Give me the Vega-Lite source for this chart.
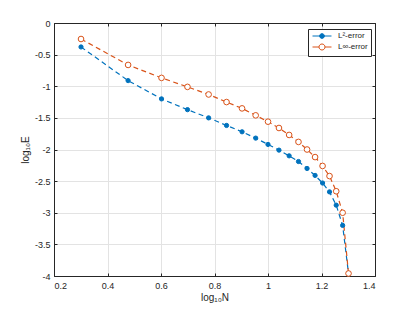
{
  "$schema": "https://vega.github.io/schema/vega-lite/v6.json",
  "autosize": {"type": "none"},
  "padding": {"left": 54, "top": 23, "right": 39, "bottom": 35},
  "width": 321,
  "height": 253,
  "background": "white",
  "config": {
    "view": {"stroke": "#262626", "strokeWidth": 1},
    "font": "Liberation Sans",
    "axis": {
      "labelFont": "Liberation Sans",
      "titleFont": "Liberation Sans",
      "labelFontSize": 9,
      "titleFontSize": 10,
      "titleFontWeight": "normal",
      "labelColor": "#262626",
      "titleColor": "#262626",
      "domainColor": "#262626",
      "tickColor": "#262626",
      "gridColor": "#e3e3e3",
      "gridOpacity": 1,
      "tickSize": -3
    }
  },
  "data": {
    "values": [
      {"x": 0.301, "e": -0.379, "s": "L²-error"},
      {"x": 0.477, "e": -0.911, "s": "L²-error"},
      {"x": 0.602, "e": -1.20, "s": "L²-error"},
      {"x": 0.699, "e": -1.37, "s": "L²-error"},
      {"x": 0.778, "e": -1.50, "s": "L²-error"},
      {"x": 0.845, "e": -1.62, "s": "L²-error"},
      {"x": 0.903, "e": -1.72, "s": "L²-error"},
      {"x": 0.954, "e": -1.82, "s": "L²-error"},
      {"x": 1.000, "e": -1.92, "s": "L²-error"},
      {"x": 1.041, "e": -2.01, "s": "L²-error"},
      {"x": 1.079, "e": -2.10, "s": "L²-error"},
      {"x": 1.114, "e": -2.19, "s": "L²-error"},
      {"x": 1.146, "e": -2.30, "s": "L²-error"},
      {"x": 1.176, "e": -2.41, "s": "L²-error"},
      {"x": 1.204, "e": -2.53, "s": "L²-error"},
      {"x": 1.230, "e": -2.67, "s": "L²-error"},
      {"x": 1.255, "e": -2.88, "s": "L²-error"},
      {"x": 1.279, "e": -3.20, "s": "L²-error"},
      {"x": 1.301, "e": -3.96, "s": "L²-error"},
      {"x": 0.301, "e": -0.253, "s": "L∞-error"},
      {"x": 0.477, "e": -0.663, "s": "L∞-error"},
      {"x": 0.602, "e": -0.868, "s": "L∞-error"},
      {"x": 0.699, "e": -1.01, "s": "L∞-error"},
      {"x": 0.778, "e": -1.13, "s": "L∞-error"},
      {"x": 0.845, "e": -1.25, "s": "L∞-error"},
      {"x": 0.903, "e": -1.35, "s": "L∞-error"},
      {"x": 0.954, "e": -1.46, "s": "L∞-error"},
      {"x": 1.000, "e": -1.56, "s": "L∞-error"},
      {"x": 1.041, "e": -1.66, "s": "L∞-error"},
      {"x": 1.079, "e": -1.77, "s": "L∞-error"},
      {"x": 1.114, "e": -1.88, "s": "L∞-error"},
      {"x": 1.146, "e": -2.00, "s": "L∞-error"},
      {"x": 1.176, "e": -2.12, "s": "L∞-error"},
      {"x": 1.204, "e": -2.26, "s": "L∞-error"},
      {"x": 1.230, "e": -2.42, "s": "L∞-error"},
      {"x": 1.255, "e": -2.66, "s": "L∞-error"},
      {"x": 1.279, "e": -3.00, "s": "L∞-error"},
      {"x": 1.301, "e": -3.96, "s": "L∞-error"}
    ]
  },
  "resolve": {"axis": {"x": "independent", "y": "independent"}},
  "layer": [
    {
      "mark": {"type": "line", "strokeDash": [5, 3.5], "strokeWidth": 1.2},
      "encoding": {
        "x": {
          "field": "x", "type": "quantitative",
          "scale": {"domain": [0.2, 1.4], "nice": false, "zero": false},
          "axis": {
            "orient": "bottom",
            "values": [0.2, 0.4, 0.6, 0.8, 1, 1.2, 1.4],
            "labelExpr": "'' + datum.value",
            "title": "log₁₀N",
            "labelPadding": 8,
            "titlePadding": 2
          }
        },
        "y": {
          "field": "e", "type": "quantitative",
          "scale": {"domain": [-4, 0], "nice": false, "zero": false},
          "axis": {
            "orient": "left",
            "values": [0, -0.5, -1, -1.5, -2, -2.5, -3, -3.5, -4],
            "labelExpr": "'' + datum.value",
            "title": "log₁₀E",
            "labelPadding": 7,
            "titlePadding": 4
          }
        },
        "color": {
          "field": "s", "type": "nominal",
          "scale": {"domain": ["L²-error", "L∞-error"], "range": ["#0072BD", "#D95319"]},
          "legend": {
            "orient": "none",
            "legendX": 254,
            "legendY": 6,
            "title": null,
            "strokeColor": "#262626",
            "fillColor": "white",
            "padding": 3,
            "labelFont": "Liberation Sans",
            "labelFontSize": 8,
            "labelColor": "#262626",
            "symbolSize": 40,
            "symbolOffset": 7,
            "labelOffset": 12,
            "rowPadding": 0,
            "symbolStrokeWidth": 1,
            "symbolDash": [],
            "encode": {
              "symbols": {
                "update": {
                  "shape": [
                    {"test": "datum.value === 'L²-error'", "value": "M-3,0H3M0.75,0A0.75,0.75 0 1 1 -0.75,0A0.75,0.75 0 1 1 0.75,0"},
                    {"value": "M-3,0H-0.95M0.95,0H3M0.95,0A0.95,0.95 0 1 1 -0.95,0A0.95,0.95 0 1 1 0.95,0"}
                  ],
                  "fill": [
                    {"test": "datum.value === 'L²-error'", "value": "#0072BD"},
                    {"value": "white"}
                  ],
                  "fillOpacity": {"value": 1},
                  "strokeDash": {"value": []}
                }
              }
            }
          }
        }
      }
    },
    {
      "mark": {"type": "point", "filled": false, "strokeWidth": 1, "opacity": 1},
      "encoding": {
        "x": {
          "field": "x", "type": "quantitative",
          "axis": {
            "orient": "top", "values": [0.2, 0.4, 0.6, 0.8, 1, 1.2, 1.4],
            "labels": false, "title": null, "grid": false
          }
        },
        "y": {
          "field": "e", "type": "quantitative",
          "axis": {
            "orient": "right", "values": [0, -0.5, -1, -1.5, -2, -2.5, -3, -3.5, -4],
            "labels": false, "title": null, "grid": false
          }
        },
        "color": {"field": "s", "type": "nominal"},
        "fill": {
          "condition": {"test": "datum.s === 'L²-error'", "value": "#0072BD"},
          "value": "white"
        },
        "size": {
          "condition": {"test": "datum.s === 'L²-error'", "value": 18},
          "value": 32
        }
      }
    }
  ]
}
